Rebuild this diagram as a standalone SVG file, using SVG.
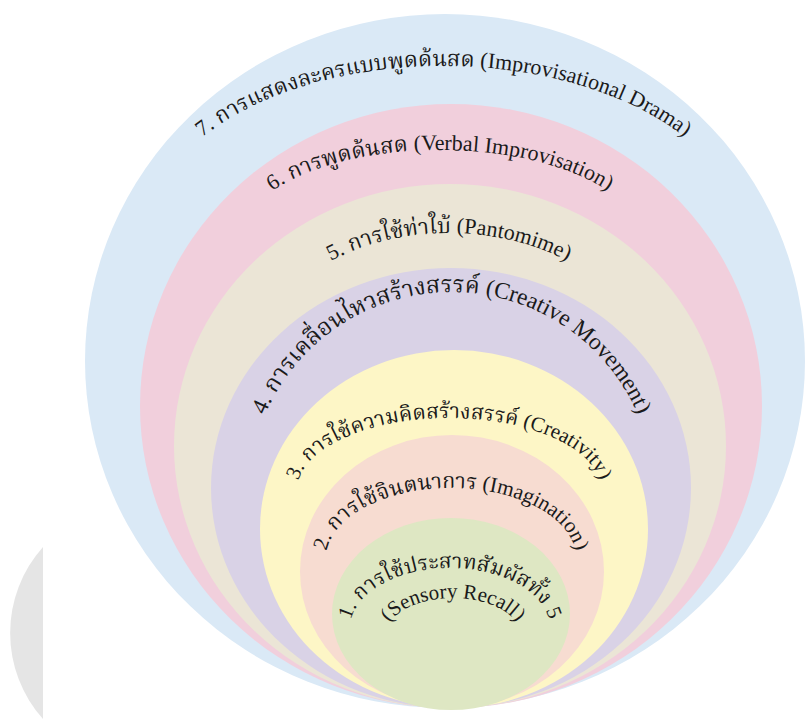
<svg xmlns="http://www.w3.org/2000/svg" width="809" height="720" viewBox="0 0 809 720">
<style>
.lbl{font-family:"Liberation Serif","DejaVu Serif","Noto Serif Thai","Noto Sans Thai",serif;font-size:21px;fill:#1a1a1a;text-anchor:middle}
.big{font-size:22px}
.l4{font-size:23.5px}
.l2{font-size:21.5px}
</style>
<defs>
<path id="p7" d="M143.5,241 A300,175 0 0 1 743.5,241"/>
<path id="p6" d="M240,240 A200,90 0 0 1 640,240"/>
<path id="p5" d="M249,376.5 A200,143.5 0 0 1 649,376.5"/>
<path id="p4" d="M248.5,495 A203,203 0 0 1 654.5,495"/>
<path id="p3" d="M297,490 A152,72 0 0 1 601,490"/>
<path id="p2" d="M326,558 A125,70 0 0 1 576,558"/>
<path id="p1" d="M350,628 A100,60 0 0 1 550,628"/>
<path id="p1b" d="M385,636 A68,38 0 0 1 521,636"/>
</defs>
<rect width="809" height="720" fill="#ffffff"/>
<path d="M43,547 A129,129 0 0 0 43,719 Z" fill="#e5e5e5"/>
<g id="n7"><ellipse cx="445" cy="361" rx="360" ry="347" fill="#dae9f6"/></g>
<g id="n6"><ellipse cx="451" cy="406" rx="311" ry="302" fill="#f1cfdc"/></g>
<g id="n5"><ellipse cx="450" cy="446" rx="276" ry="262" fill="#ebe5d6"/></g>
<g id="n4"><ellipse cx="451" cy="488" rx="240" ry="220" fill="#d9d2e6"/></g>
<g id="n3"><ellipse cx="454" cy="529" rx="194" ry="179" fill="#fdf6c6"/></g>
<g id="n2"><ellipse cx="452" cy="571.5" rx="152" ry="136.5" fill="#f7dcd1"/></g>
<g id="n1"><ellipse cx="451" cy="614" rx="119" ry="96" fill="#dee7c3"/></g>
<g id="labels">
<text class="lbl big"><textPath href="#p7" startOffset="50%">7. การแสดงละครแบบพูดด้นสด (Improvisational Drama)</textPath></text>
<text class="lbl big"><textPath href="#p6" startOffset="50%">6. การพูดด้นสด (Verbal Improvisation)</textPath></text>
<text class="lbl big"><textPath href="#p5" startOffset="50%">5. การใช้ท่าใบ้ (Pantomime)</textPath></text>
<text class="lbl l4"><textPath href="#p4" startOffset="50%">4. การเคลื่อนไหวสร้างสรรค์ (Creative Movement)</textPath></text>
<text class="lbl"><textPath href="#p3" startOffset="50%">3. การใช้ความคิดสร้างสรรค์ (Creativity)</textPath></text>
<text class="lbl l2"><textPath href="#p2" startOffset="50%">2. การใช้จินตนาการ (Imagination)</textPath></text>
<text class="lbl"><textPath href="#p1" startOffset="50%">1. การใช้ประสาทสัมผัสทั้ง 5</textPath></text>
<text class="lbl"><textPath href="#p1b" startOffset="50%">(Sensory Recall)</textPath></text>
</g>
</svg>
